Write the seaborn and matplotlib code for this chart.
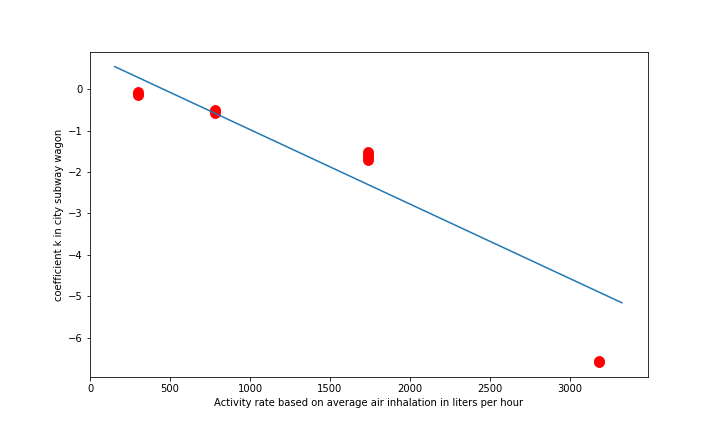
import numpy as np
import pandas as pd
import seaborn as sns
import matplotlib
matplotlib.use('Agg')
import matplotlib.pyplot as plt

# measured points (activity rate vs coefficient k)
rate = [300, 300, 300, 780, 780, 780, 1740, 1740, 1740, 1740, 3180, 3180]
k = [-0.07, -0.10, -0.13, -0.49, -0.53, -0.57, -1.52, -1.58, -1.64, -1.70, -6.57, -6.60]

# fitted line end points
line_x = [155, 3325]
line_y = [0.55, -5.16]

df = pd.DataFrame({'rate': rate, 'k': k})
df_line = pd.DataFrame({'x': line_x, 'y': line_y})

fig, ax = plt.subplots(figsize=(10, 6), dpi=72)
fig.subplots_adjust(left=0.125, right=0.9, top=0.88, bottom=0.127)

sns.scatterplot(data=df, x='rate', y='k', s=100, color='red', edgecolor='red', ax=ax)
sns.lineplot(data=df_line, x='x', y='y', color='#1f77b4', linewidth=1.5, ax=ax)

ax.set_xlim(0, 3488)
ax.set_xlabel('Activity rate based on average air inhalation in liters per hour')
ax.set_ylabel('coefficient k in city subway wagon')

fig.savefig('out.png', dpi=72)
